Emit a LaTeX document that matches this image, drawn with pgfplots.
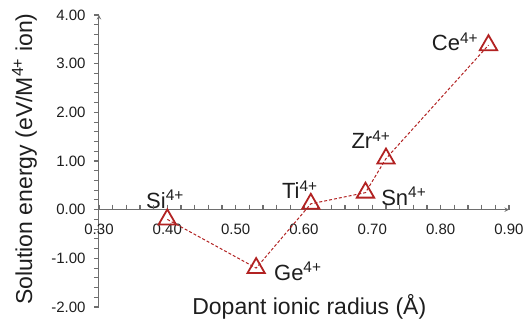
\documentclass[border=0pt]{standalone}
\usepackage{pgfplots}
\pgfplotsset{compat=1.18}
\usepackage{fontspec}
\setmainfont{Liberation Sans}
\definecolor{dred}{RGB}{178,34,34}
\definecolor{axgray}{RGB}{110,110,110}
\definecolor{txt}{RGB}{30,30,30}
\begin{document}
\begin{tikzpicture}
\begin{axis}[
  scale only axis,
  width=410bp, height=292bp,
  xmin=0.3, xmax=0.9, ymin=-2, ymax=4,
  axis x line=middle, axis y line=left,
  axis line style={axgray, line width=1bp},
  xtick={0.3,0.4,...,0.9},
  ytick={-2,-1,...,4},
  hide obscured x ticks=false,
  minor x tick num=4, minor y tick num=4,
  xtick align=inside, ytick align=outside,
  major tick length=5bp, minor tick length=5bp,
  every tick/.style={axgray, line width=1.1bp},
  /pgf/number format/fixed,
  /pgf/number format/fixed zerofill,
  /pgf/number format/precision=2,
  /pgf/number format/assume math mode=true,
  ticklabel style={font=\fontsize{15bp}{18bp}\selectfont, text=txt},
  xticklabel style={anchor=north, yshift=-11bp},
  yticklabel style={anchor=east, xshift=-5bp},
  xlabel={Dopant ionic radius (Å)},
  ylabel={Solution energy (eV/M\textsuperscript{4+} ion)},
  label style={font=\fontsize{23bp}{27bp}\selectfont, text=txt},
  xlabel style={at={(axis description cs:0.513,-0.027)}, anchor=base},
  ylabel style={at={(axis description cs:-0.163,0.507)}, anchor=base, rotate=0},
  clip=false,
]
% tick marks along the x axis line (y = 0), pointing up
\addplot[forget plot, only marks, mark=|, mark size=2.5bp,
  mark options={axgray, line width=1bp, solid, yshift=2.5bp}]
  coordinates {
  (0.30,0) (0.32,0) (0.34,0) (0.36,0) (0.38,0) (0.40,0) (0.42,0) (0.44,0)
  (0.46,0) (0.48,0) (0.50,0) (0.52,0) (0.54,0) (0.56,0) (0.58,0) (0.60,0)
  (0.62,0) (0.64,0) (0.66,0) (0.68,0) (0.70,0) (0.72,0) (0.74,0) (0.76,0)
  (0.78,0) (0.80,0) (0.82,0) (0.84,0) (0.86,0) (0.88,0) (0.90,0)
};
% tick marks along the y axis line, pointing left
\addplot[forget plot, only marks, mark=-, mark size=2.5bp,
  mark options={axgray, line width=1bp, solid, xshift=-2.5bp}]
  coordinates {
  (0.3,-2.0) (0.3,-1.8) (0.3,-1.6) (0.3,-1.4) (0.3,-1.2) (0.3,-1.0)
  (0.3,-0.8) (0.3,-0.6) (0.3,-0.4) (0.3,-0.2) (0.3,0.0) (0.3,0.2)
  (0.3,0.4) (0.3,0.6) (0.3,0.8) (0.3,1.0) (0.3,1.2) (0.3,1.4)
  (0.3,1.6) (0.3,1.8) (0.3,2.0) (0.3,2.2) (0.3,2.4) (0.3,2.6)
  (0.3,2.8) (0.3,3.0) (0.3,3.2) (0.3,3.4) (0.3,3.6) (0.3,3.8) (0.3,4.0)
};
\addplot[dred, densely dashed, line width=1bp,
  mark=triangle, mark size=10bp,
  mark options={solid, line width=1.8bp, fill=none}]
  coordinates {
  (0.40,-0.20)
  (0.53,-1.20)
  (0.61,0.12)
  (0.69,0.35)
  (0.72,1.05)
  (0.87,3.38)
};
\tikzset{lbl/.style={font=\fontsize{22bp}{26bp}\selectfont, text=txt, inner sep=0pt, anchor=center}}
\node[lbl] at (axis cs:0.3966,0.21) {Si\textsuperscript{4+}};
\node[lbl] at (axis cs:0.591,-1.27) {Ge\textsuperscript{4+}};
\node[lbl] at (axis cs:0.594,0.41) {Ti\textsuperscript{4+}};
\node[lbl] at (axis cs:0.746,0.27) {Sn\textsuperscript{4+}};
\node[lbl] at (axis cs:0.698,1.44) {Zr\textsuperscript{4+}};
\node[lbl] at (axis cs:0.821,3.45) {Ce\textsuperscript{4+}};
\end{axis}
\pgfresetboundingbox
\useasboundingbox (-99bp,-15bp) rectangle (433bp,307bp);
\end{tikzpicture}
\end{document}
